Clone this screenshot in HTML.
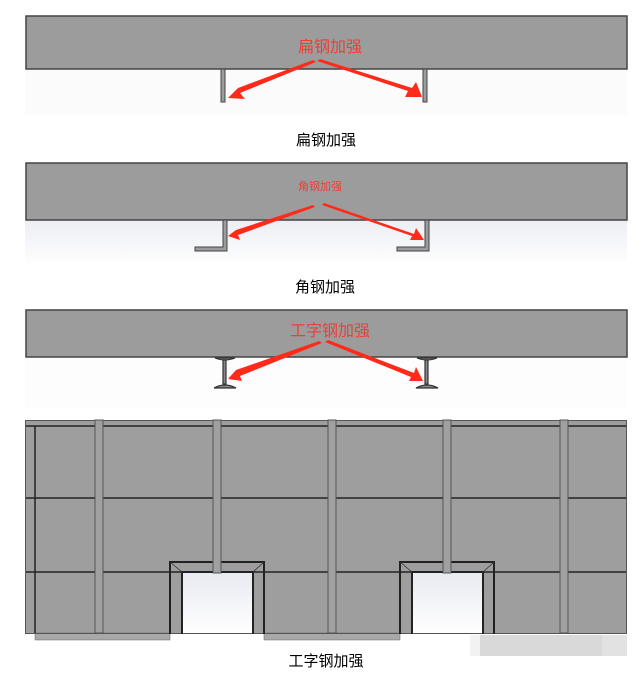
<!DOCTYPE html>
<html><head><meta charset="utf-8"><style>
body{margin:0;background:#fff;}
svg{display:block}
text{font-family:"Liberation Sans","Noto Sans CJK SC",sans-serif}
</style></head><body>
<svg width="642" height="675" viewBox="0 0 642 675">
<defs>
<linearGradient id="g" x1="0" y1="0" x2="0" y2="1"><stop offset="0" stop-color="#eceef4"/><stop offset="1" stop-color="#fdfdfe"/></linearGradient>
<linearGradient id="g2" x1="0" y1="0" x2="0" y2="1"><stop offset="0" stop-color="#e8eaf1"/><stop offset="1" stop-color="#ffffff"/></linearGradient>
</defs>
<!-- panel 1 -->
<rect x="25" y="69" width="602" height="46" fill="#fbfbfc"/>
<rect x="26" y="16" width="601" height="53" fill="#9c9c9c" stroke="#444" stroke-width="1.5"/>
<rect x="221" y="69" width="4" height="33" fill="#9c9c9c" stroke="#444" stroke-width="1"/>
<rect x="423" y="69" width="4" height="33" fill="#9c9c9c" stroke="#444" stroke-width="1"/>
<text x="330" y="52" font-size="16" fill="#e8413a" text-anchor="middle">扁钢加强</text>
<g fill="#ff2a1a">
<polygon points="313,60 316,62 240,93 245,99 228,98 238,88"/>
<polygon points="317,61 320,59 412,88 416,82 422,97 405,97 408,91"/>
</g>
<text x="326" y="145" font-size="15" fill="#000" text-anchor="middle">扁钢加强</text>
<!-- panel 2 -->
<rect x="25" y="220" width="602" height="42" fill="url(#g)"/>
<rect x="26" y="163" width="601" height="57" fill="#9c9c9c" stroke="#444" stroke-width="1.5"/>
<path d="M223,220 V247 H195 V251 H227 V220 Z" fill="#9c9c9c" stroke="#444" stroke-width="1"/>
<path d="M425,220 V247 H397 V251 H429 V220 Z" fill="#9c9c9c" stroke="#444" stroke-width="1"/>
<text x="320" y="190" font-size="11" fill="#e8413a" text-anchor="middle">角钢加强</text>
<g fill="#ff2a1a">
<polygon points="313,205 315,207 238,235 240,240 228,236 236,230"/>
<polygon points="322,205 324,203 414,234 416,228 424,240 410,240 412,236"/>
</g>
<text x="325" y="292" font-size="15" fill="#000" text-anchor="middle">角钢加强</text>
<!-- panel 3 -->
<rect x="25" y="357" width="602" height="52" fill="#fdfdfd"/>
<rect x="26" y="310" width="601" height="47" fill="#9c9c9c" stroke="#444" stroke-width="1.5"/>
<g stroke="#333" stroke-width="1.2" fill="#888">
<path d="M215,358 Q225,362 235,358 Z"/><rect x="223" y="360" width="3" height="24"/><path d="M214,388 Q225,382 236,388 Z"/>
<path d="M417,358 Q427,362 437,358 Z"/><rect x="425" y="360" width="3" height="24"/><path d="M416,388 Q427,382 438,388 Z"/>
</g>
<text x="330" y="336" font-size="16" fill="#e8413a" text-anchor="middle">工字钢加强</text>
<g fill="#ff2a1a">
<polygon points="319,341 322,343 240,376 242,381 228,379 236,370"/>
<polygon points="325,342 328,340 414,373 416,367 423,381 409,381 411,377"/>
</g>
<!-- panel 4 -->
<rect x="25" y="420" width="602" height="214" fill="#9e9e9e"/>
<rect x="35" y="633" width="135" height="7" fill="#a8a8a8" stroke="#666" stroke-width="0.5"/>
<rect x="264" y="633" width="136" height="7" fill="#a8a8a8" stroke="#666" stroke-width="0.5"/>
<rect x="182" y="572" width="71" height="62" fill="url(#g2)"/>
<rect x="412" y="572" width="71" height="62" fill="url(#g2)"/>
<g stroke="#222" stroke-width="1.5" fill="none">
<line x1="25" y1="426" x2="627" y2="426"/>
<line x1="25" y1="498" x2="627" y2="498"/>
<line x1="25" y1="572" x2="627" y2="572"/>
<line x1="35" y1="426" x2="35" y2="634"/>
<rect x="25.5" y="420.5" width="601" height="213" stroke="#555" stroke-width="1"/>
<path d="M170,634 V562 H264 V634 M182,634 V572 H253 V634" stroke-width="2"/>
<path d="M400,634 V562 H494 V634 M412,634 V572 H483 V634" stroke-width="2"/>
</g>
<g stroke="#333" stroke-width="0.8">
<line x1="170" y1="562" x2="182" y2="572"/><line x1="264" y1="562" x2="253" y2="572"/>
<line x1="400" y1="562" x2="412" y2="572"/><line x1="494" y1="562" x2="483" y2="572"/>
</g>
<g fill="#a0a0a0" stroke="#555" stroke-width="1">
<rect x="95" y="420" width="8" height="213"/>
<rect x="213" y="420" width="8" height="153"/>
<rect x="328" y="420" width="8" height="213"/>
<rect x="443" y="420" width="8" height="153"/>
<rect x="560" y="420" width="8" height="213"/>
</g>
<rect x="470" y="635" width="10" height="21" fill="#f2f2f2"/>
<rect x="480" y="635" width="122" height="21" fill="#d9d9d9"/>
<rect x="602" y="635" width="25" height="21" fill="#e2e2e2"/>
<text x="326" y="666" font-size="15" fill="#000" text-anchor="middle">工字钢加强</text>
</svg>
</body></html>
